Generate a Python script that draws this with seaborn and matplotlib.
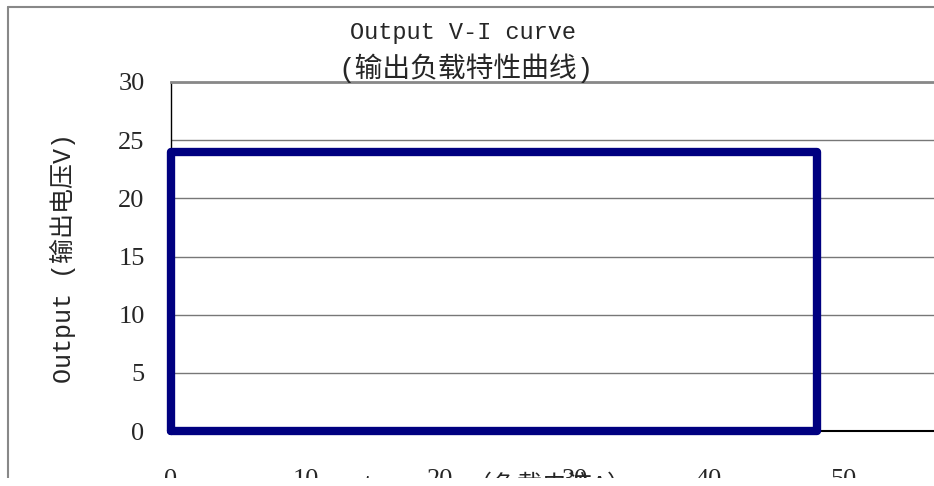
import matplotlib
matplotlib.use("Agg")
import matplotlib.pyplot as plt
from matplotlib.lines import Line2D
from matplotlib.patches import Rectangle
import seaborn as sns
import pandas as pd

# V-I curve: current (A) vs output voltage (V)
current = [0, 0, 48, 48, 0]
voltage = [0, 24, 24, 0, 0]
x_ticks = [0, 10, 20, 30, 40, 50]
y_ticks = [0, 5, 10, 15, 20, 25, 30]
title_en = "Output V-I curve"
title_cn = "(输出负载特性曲线)"
y_label = "Output (输出电压V)"
x_label = "current      （负载电流A）"

sns.set_theme(style="white")
plt.rcParams["font.family"] = ["Liberation Serif", "Noto Sans CJK SC"]
mono = ["Liberation Mono", "Noto Sans CJK SC"]

W, H = 934, 486
fig = plt.figure(figsize=(W / 100, H / 100), dpi=100)
ax = fig.add_axes([171 / W, 55 / H, 807 / W, 349 / H])

df = pd.DataFrame({"I": current, "V": voltage})
sns.lineplot(data=df, x="I", y="V", sort=False, estimator=None,
             color="#000080", linewidth=6, ax=ax, clip_on=False, zorder=5)

ax.set_xlim(0, 60)
ax.set_ylim(0, 30)
ax.set_xticks(x_ticks)
ax.set_yticks(y_ticks)
ax.set_xlabel("")
ax.set_ylabel("")
ax.yaxis.grid(True, color="#777777", linewidth=1)
ax.xaxis.grid(False)
ax.tick_params(axis="x", direction="in", length=8, width=1, color="black",
               pad=27, labelsize=19)
ax.tick_params(axis="y", length=0, pad=19, labelsize=19)
ax.spines["top"].set_color("#888888")
ax.spines["top"].set_linewidth(2)
ax.spines["left"].set_color("black")
ax.spines["left"].set_linewidth(1)
ax.spines["bottom"].set_color("black")
ax.spines["bottom"].set_linewidth(1.5)
ax.spines["right"].set_visible(False)

fig.text(463 / W, 1 - 33 / H, title_en, ha="center", va="center",
         family=mono, fontsize=17)
fig.text(466 / W, 1 - 68 / H, title_cn, ha="center", va="center",
         family=mono, fontsize=20)
fig.text(63 / W, 1 - 258 / H, y_label, ha="center", va="center",
         rotation=90, family=mono, fontsize=18)
fig.text(272 / W, 1 - 474 / H, x_label, ha="left", va="top",
         family=mono, fontsize=18)

# chart frame and the cropped bottom edge
fig.add_artist(Line2D([8 / W, 8 / W], [0, 1 - 7 / H], color="#888888",
                      linewidth=1.5, transform=fig.transFigure))
fig.add_artist(Line2D([8 / W, 1], [1 - 7 / H, 1 - 7 / H], color="#888888",
                      linewidth=1.5, transform=fig.transFigure))
fig.add_artist(Rectangle((0, 0), 1, 8 / H, facecolor="white", edgecolor="none",
                         transform=fig.transFigure, zorder=10))

fig.savefig("out.png", dpi=100)
